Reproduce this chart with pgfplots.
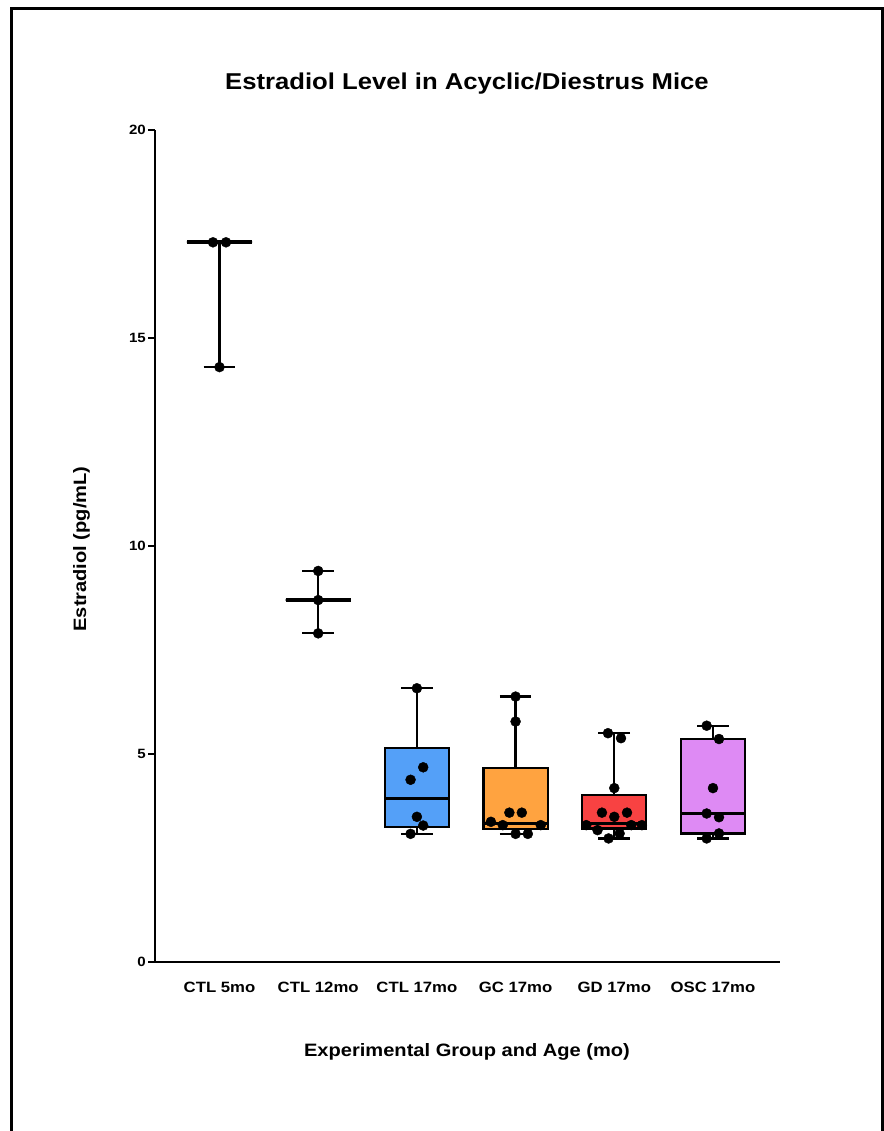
\documentclass[border=0pt]{standalone}
\usepackage{fontspec}
\setmainfont[FakeStretch=1.12]{Liberation Sans}
\usepackage{pgfplots}
\pgfplotsset{compat=1.18}
\usepgfplotslibrary{statistics}
\definecolor{cblue}{RGB}{84,160,248}
\definecolor{corange}{RGB}{255,163,64}
\definecolor{cred}{RGB}{248,66,66}
\definecolor{cviolet}{RGB}{222,138,244}
\begin{document}
\begin{tikzpicture}
\useasboundingbox (0,0) rectangle (884bp,1131bp);
\draw[line width=3bp] (11.7bp,-10bp) -- (11.7bp,1122.3bp) -- (882.5bp,1122.3bp) -- (882.5bp,-10bp);
\node[font=\bfseries\fontsize{23}{23}\selectfont, anchor=base] at (467bp,1041bp) {Estradiol Level in Acyclic/Diestrus Mice};
\node[font=\bfseries\fontsize{18}{18}\selectfont, rotate=90, anchor=base] at (86bp,582bp) {Estradiol (pg/mL)};
\node[font=\bfseries\fontsize{18}{18}\selectfont, anchor=base] at (467bp,74bp) {Experimental Group and Age (mo)};
\begin{axis}[
  at={(155bp,169bp)}, anchor=south west,
  scale only axis, width=624.5bp, height=832bp,
  xmin=-0.6535, xmax=5.674, ymin=0, ymax=20,
  axis x line=bottom, axis y line=left,
  axis line style={-, line width=2.2bp, black},
  xtick={0,1,2,3,4,5},
  xticklabels={CTL 5mo, CTL 12mo, CTL 17mo, GC 17mo, GD 17mo, OSC 17mo},
  x tick style={draw=none},
  ytick={0,5,10,15,20},
  tick align=outside,
  major tick length=7bp,
  y tick style={line width=2.2bp, black},
  /pgf/number format/assume math mode=true,
  yticklabel style={font=\bfseries\fontsize{13.5}{13.5}\selectfont, inner xsep=2bp},
  xticklabel style={font=\bfseries\fontsize{15}{15}\selectfont, anchor=base, yshift=-24bp},
  boxplot/draw direction=y,
  clip=false,
]
% CTL 5mo: median and range
\addplot[draw=black, line width=2.2bp, boxplot prepared={draw position=0, lower whisker=14.3, lower quartile=17.3, median=17.3, upper quartile=17.3, upper whisker=17.3, box extend=0.66, whisker extend=0.32, every median/.style={line width=4bp}}] coordinates {};
% CTL 12mo
\addplot[draw=black, line width=2.2bp, boxplot prepared={draw position=1, lower whisker=7.9, lower quartile=8.7, median=8.7, upper quartile=8.7, upper whisker=9.4, box extend=0.66, whisker extend=0.32, every median/.style={line width=4bp}}] coordinates {};
% CTL 17mo
\addplot[draw=black, line width=2.2bp, fill=cblue, boxplot prepared={draw position=2, lower whisker=3.08, lower quartile=3.25, median=3.93, upper quartile=5.14, upper whisker=6.58, box extend=0.65, whisker extend=0.32}] coordinates {};
% GC 17mo
\addplot[draw=black, line width=2.2bp, fill=corange, boxplot prepared={draw position=3, lower whisker=3.08, lower quartile=3.19, median=3.33, upper quartile=4.66, upper whisker=6.38, box extend=0.65, whisker extend=0.32}] coordinates {};
% GD 17mo
\addplot[draw=black, line width=2.2bp, fill=cred, boxplot prepared={draw position=4, lower whisker=2.97, lower quartile=3.21, median=3.33, upper quartile=4.01, upper whisker=5.50, box extend=0.65, whisker extend=0.32}] coordinates {};
% OSC 17mo
\addplot[draw=black, line width=2.2bp, fill=cviolet, boxplot prepared={draw position=5, lower whisker=2.97, lower quartile=3.09, median=3.57, upper quartile=5.36, upper whisker=5.68, box extend=0.65, whisker extend=0.32}] coordinates {};
% individual points
\addplot[only marks, mark=*, mark size=5bp, black] coordinates {
 (-0.066,17.3) (0.066,17.3) (0,14.3)
 (1,9.4) (1,8.7) (1,7.9)
 (2,6.58) (2.064,4.68) (1.936,4.38) (2,3.49) (2.064,3.28) (1.936,3.08)
 (3,6.38) (3,5.78) (2.937,3.59) (3.063,3.59) (2.75,3.37) (2.87,3.29) (3.255,3.29) (3,3.08) (3.124,3.08)
 (3.936,5.50) (4.068,5.38) (4,4.18) (3.875,3.59) (4.129,3.59) (4,3.49) (3.716,3.29) (4.172,3.29) (4.28,3.29) (3.83,3.17) (4.054,3.09) (3.942,2.97)
 (4.936,5.68) (5.061,5.36) (5,4.18) (4.936,3.57) (5.061,3.48) (5.061,3.09) (4.936,2.97)
};
\end{axis}
\end{tikzpicture}
\end{document}
